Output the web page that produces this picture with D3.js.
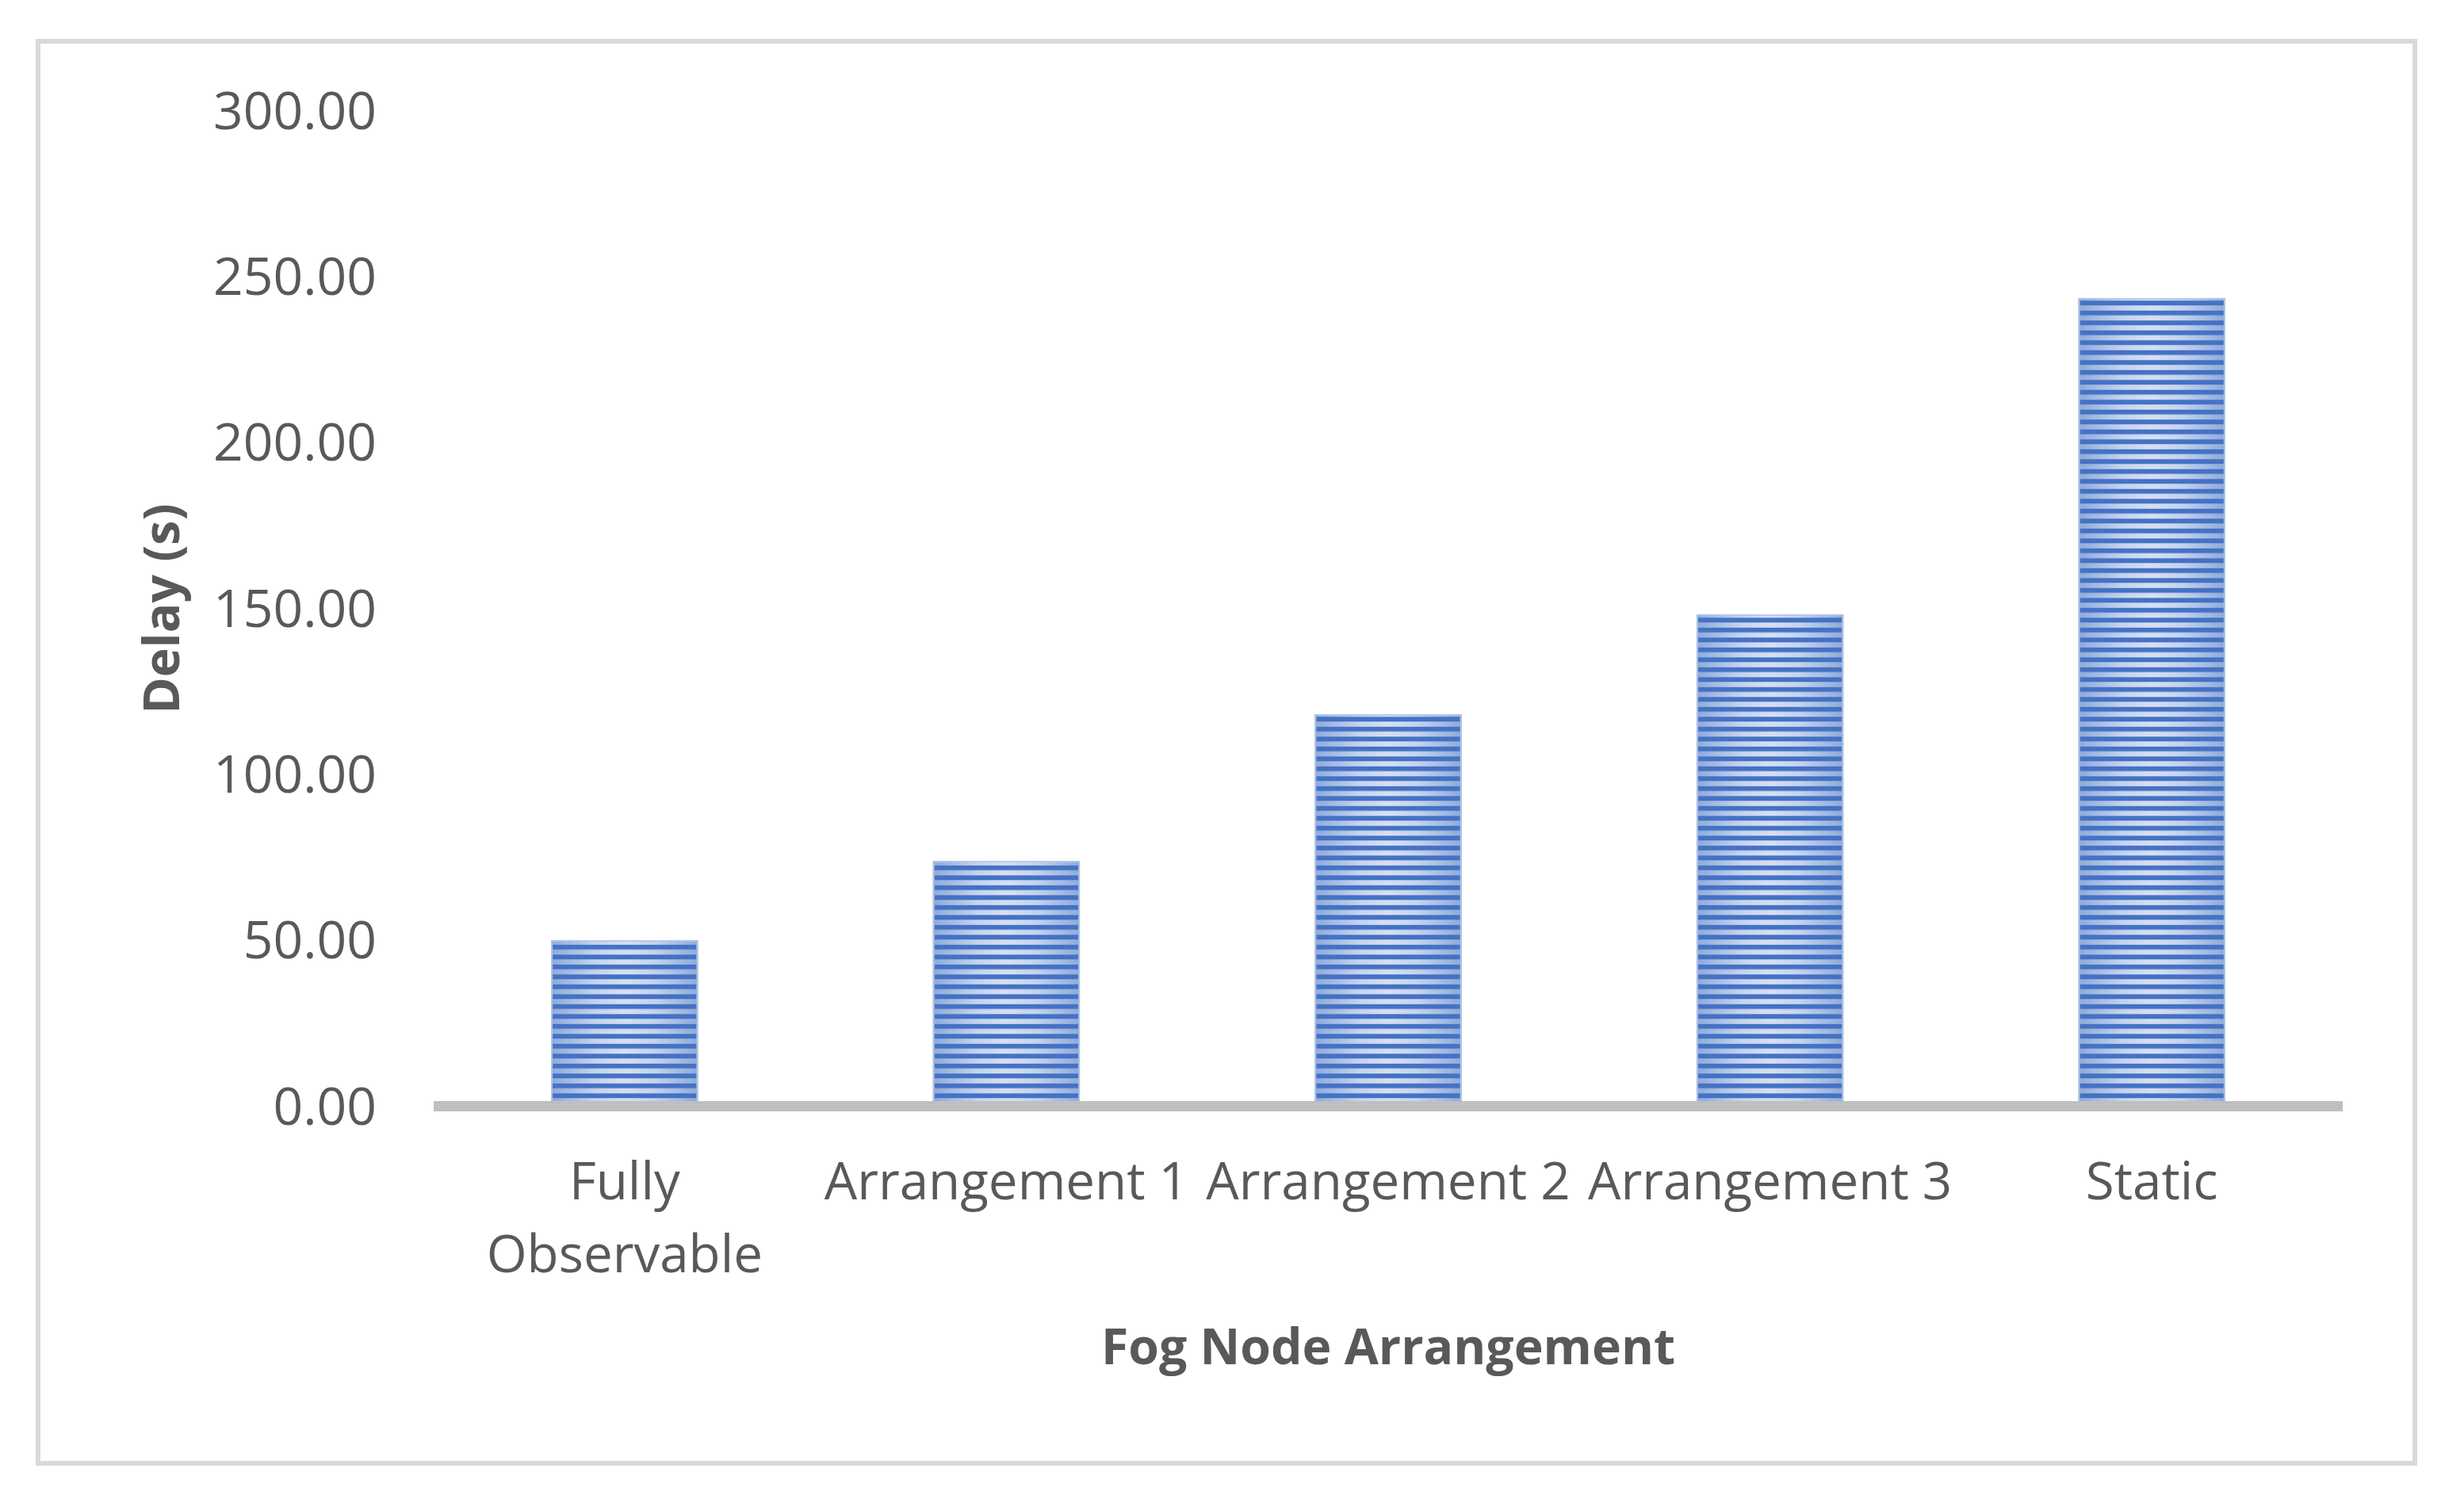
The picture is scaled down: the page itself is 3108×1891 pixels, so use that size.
<!DOCTYPE html>
<html>
<head>
<meta charset="utf-8">
<script src="https://cdn.jsdelivr.net/npm/d3@7"></script>
<style>
  html, body { margin: 0; padding: 0; background: #ffffff; }
  svg { display: block; }
  text { font-family: "Open Sans", "Noto Sans", sans-serif; fill: #595959; }
</style>
</head>
<body>
<script>
// ---- data ----
const categories = ["Fully Observable", "Arrangement 1", "Arrangement 2", "Arrangement 3", "Static"];
const delays = [49.9, 73.8, 118.0, 148.1, 243.4];
const yTicks = [0, 50, 100, 150, 200, 250, 300];
const yTitle = "Delay (s)";
const xTitle = "Fog Node Arrangement";

// ---- layout ----
const W = 3108, H = 1891;
const plot = { left: 547, right: 2955, top: 139, bottom: 1395 };

const svg = d3.select("body").append("svg")
  .attr("width", W).attr("height", H);

const defs = svg.append("defs");
// horizontal gradient for the light bands of each bar
const grad = defs.append("linearGradient").attr("id", "barGrad")
  .attr("x1", "0%").attr("x2", "100%").attr("y1", "0%").attr("y2", "0%");
grad.append("stop").attr("offset", "0%").attr("stop-color", "#8eaadb");
grad.append("stop").attr("offset", "30%").attr("stop-color", "#c5d3ee");
grad.append("stop").attr("offset", "50%").attr("stop-color", "#d7e0f2");
grad.append("stop").attr("offset", "70%").attr("stop-color", "#c5d3ee");
grad.append("stop").attr("offset", "100%").attr("stop-color", "#8eaadb");

// dark horizontal stripes
const stripe = defs.append("pattern").attr("id", "stripes")
  .attr("patternUnits", "userSpaceOnUse")
  .attr("x", 0).attr("y", 4.3)
  .attr("width", 40).attr("height", 12.5);
stripe.append("rect").attr("x", 0).attr("y", 0)
  .attr("width", 40).attr("height", 6).attr("fill", "#4472c4");

// chart border
svg.append("rect")
  .attr("x", 48).attr("y", 52).attr("width", 2998).attr("height", 1794)
  .attr("fill", "#ffffff").attr("stroke", "#d9d9d9").attr("stroke-width", 6);

// scales
const x = d3.scaleBand().domain(categories)
  .range([plot.left, plot.right]).paddingInner(0.615).paddingOuter(0.3075);
const y = d3.scaleLinear().domain([0, 300]).range([plot.bottom, plot.top]);

// y axis (labels only)
const yAxis = d3.axisLeft(y).tickValues(yTicks)
  .tickFormat(d3.format(".2f")).tickSize(0).tickPadding(0);
const gy = svg.append("g").attr("transform", `translate(${475},0)`).call(yAxis);
gy.select(".domain").remove();
gy.selectAll("text")
  .attr("font-size", 66).attr("fill", "#595959")
  .attr("font-family", "Open Sans").attr("dy", "0.35em");

// bars
const bars = svg.append("g");
bars.selectAll("rect.base").data(delays).join("rect")
  .attr("class", "base")
  .attr("x", (d, i) => x(categories[i]))
  .attr("width", x.bandwidth())
  .attr("y", d => y(d))
  .attr("height", d => y(0) - y(d))
  .attr("fill", "url(#barGrad)");
bars.selectAll("rect.stripe").data(delays).join("rect")
  .attr("class", "stripe")
  .attr("x", (d, i) => x(categories[i]) + 2)
  .attr("width", x.bandwidth() - 4)
  .attr("y", d => y(d))
  .attr("height", d => y(0) - y(d))
  .attr("fill", "url(#stripes)");
bars.selectAll("rect.edge").data(delays).join("rect")
  .attr("class", "edge")
  .attr("x", (d, i) => x(categories[i]) + 1)
  .attr("width", x.bandwidth() - 2)
  .attr("y", d => y(d) + 1)
  .attr("height", d => y(0) - y(d) - 1)
  .attr("fill", "none")
  .attr("stroke", "#b4c7e7").attr("stroke-width", 2).attr("stroke-opacity", 0.8);

// x axis line
svg.append("line")
  .attr("x1", plot.left).attr("x2", plot.right)
  .attr("y1", y(0) + 0.5).attr("y2", y(0) + 0.5)
  .attr("stroke", "#bfbfbf").attr("stroke-width", 13);

// x category labels (wrapped to band width)
const xAxis = d3.axisBottom(x).tickSize(0).tickPadding(0);
const gx = svg.append("g").attr("transform", `translate(0,${1490})`).call(xAxis);
gx.select(".domain").remove();
gx.selectAll("text")
  .attr("font-size", 65.5).attr("fill", "#595959")
  .attr("font-family", "Open Sans").attr("y", 0).attr("dy", "0.35em")
  .each(function(d) {
    const t = d3.select(this);
    if (this.getComputedTextLength() > x.step()) {
      const words = d.split(" ");
      t.text(null);
      words.forEach((w, k) => {
        t.append("tspan").attr("x", 0).attr("dy", k === 0 ? "0.35em" : "1.4em").text(w);
      });
    }
  });

// axis titles
svg.append("text")
  .attr("transform", `translate(${204},${768}) rotate(-90)`)
  .attr("text-anchor", "middle").attr("dy", "0.35em")
  .attr("font-size", 62.5).attr("font-weight", "bold")
  .text(yTitle);

svg.append("text")
  .attr("x", (plot.left + plot.right) / 2).attr("y", 1699)
  .attr("text-anchor", "middle").attr("dy", "0.35em")
  .attr("font-size", 62.5).attr("font-weight", "bold")
  .text(xTitle);
</script>
</body>
</html>
